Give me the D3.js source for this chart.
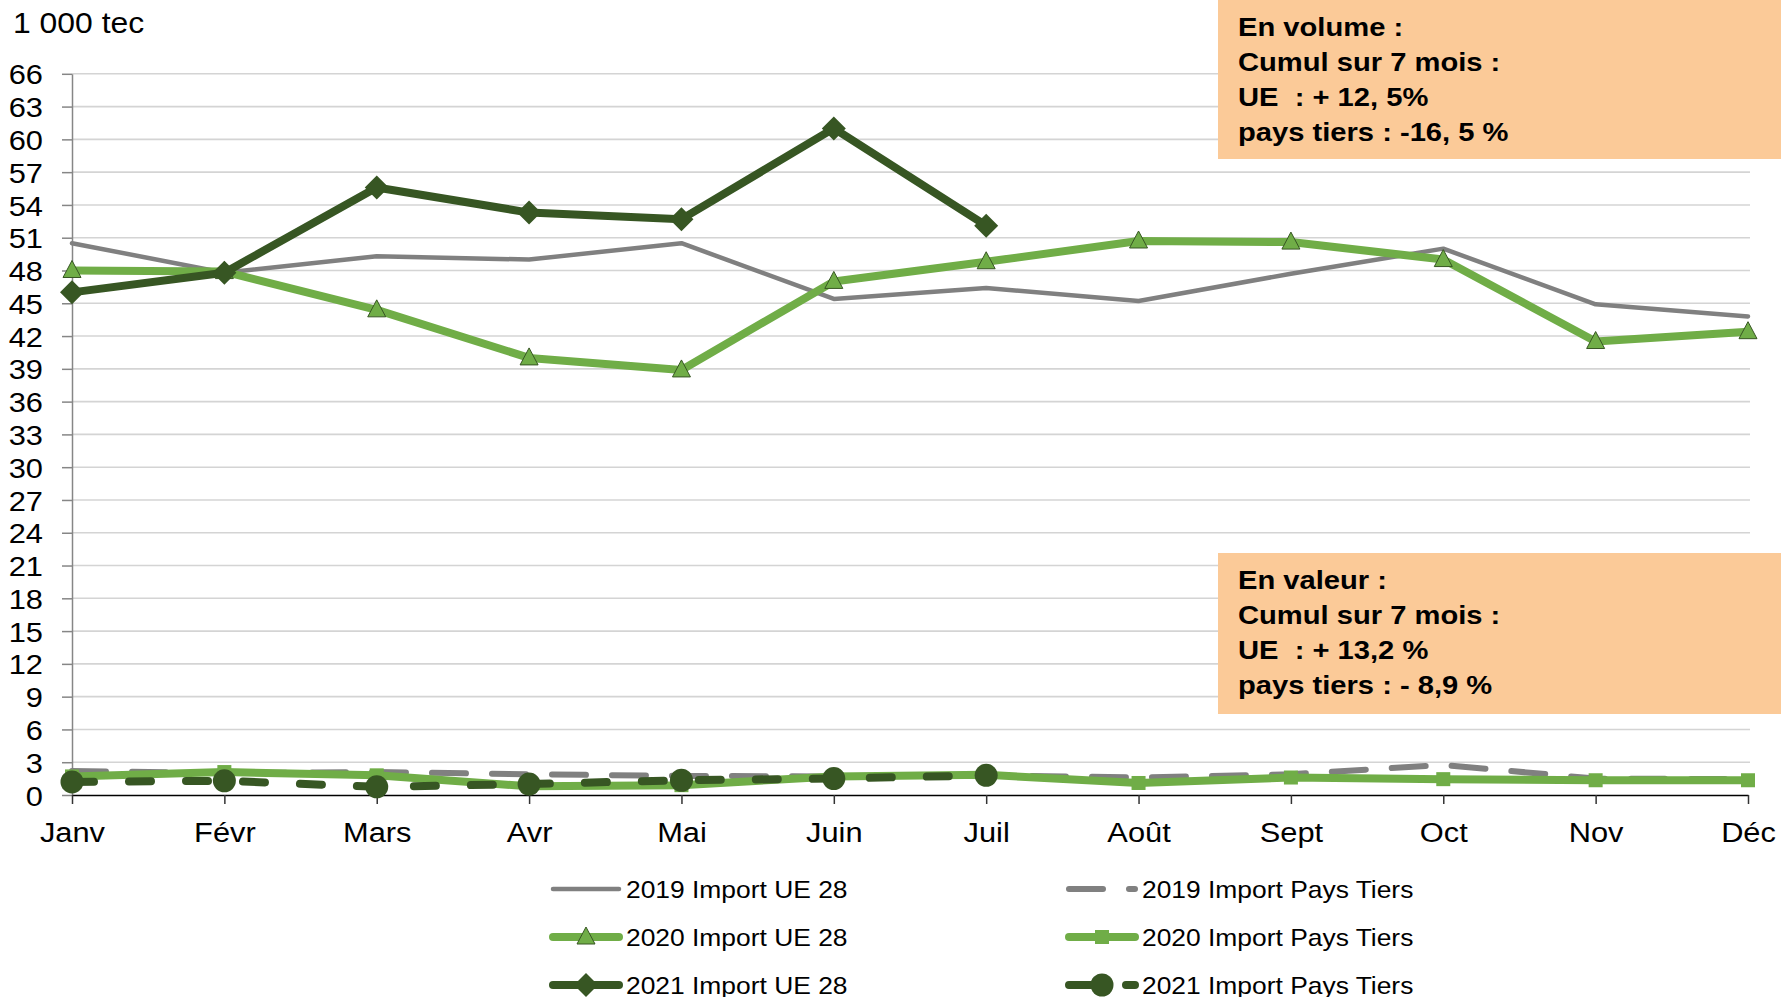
<!DOCTYPE html>
<html>
<head>
<meta charset="utf-8">
<script src="https://cdn.jsdelivr.net/npm/d3@7"></script>
<style>
  html, body { margin: 0; padding: 0; background: #fff; }
  svg { display: block; font-family: "Liberation Sans", Arial, sans-serif; }
  text { white-space: pre; }
</style>
</head>
<body>
<div id="chart"></div>
<script>
// monthly imports, 1 000 tec
const months = ["Janv", "Févr", "Mars", "Avr", "Mai", "Juin", "Juil", "Août", "Sept", "Oct", "Nov", "Déc"];
const ue2019 = [50.5, 47.8, 49.3, 49.0, 50.5, 45.4, 46.4, 45.2, 47.7, 50.0, 44.9, 43.8];
const ue2020 = [48.0, 47.9, 44.4, 40.0, 38.9, 47.0, 48.8, 50.7, 50.6, 49.0, 41.5, 42.4];
const ue2021 = [46.0, 47.8, 55.6, 53.3, 52.7, 61.0, 52.1];
const pt2019 = [2.2, 2.0, 2.1, 1.9, 1.75, 1.7, 1.8, 1.6, 1.9, 2.75, 1.5, 1.45];
const pt2020 = [1.7, 2.1, 1.8, 0.8, 0.9, 1.7, 1.85, 1.1, 1.6, 1.45, 1.35, 1.35];
const pt2021 = [1.2, 1.3, 0.75, 1.0, 1.35, 1.5, 1.8];
const yTicks = d3.range(0, 67, 3);

const boxVolume = ["En volume :", "Cumul sur 7 mois :", "UE  : + 12, 5%", "pays tiers : -16, 5 %"];
const boxValeur = ["En valeur :", "Cumul sur 7 mois :", "UE  : + 13,2 %", "pays tiers : - 8,9 %"];

const GREY = "#808080", GREEN = "#70AD47", DARK = "#375623";
const SX = 1.1; // the original picture is a little stretched horizontally

const series = [
  { name: "2019 Import UE 28", values: ue2019, color: GREY, width: 4.5, dash: null, marker: null },
  { name: "2019 Import Pays Tiers", values: pt2019, color: GREY, width: 6, dash: "34,26", marker: null },
  { name: "2020 Import UE 28", values: ue2020, color: GREEN, width: 8, dash: null, marker: "triangle" },
  { name: "2020 Import Pays Tiers", values: pt2020, color: GREEN, width: 8, dash: null, marker: "square" },
  { name: "2021 Import UE 28", values: ue2021, color: DARK, width: 8, dash: null, marker: "diamond" },
  { name: "2021 Import Pays Tiers", values: pt2021, color: DARK, width: 8, dash: "22,35", marker: "circle" },
];

const W = 1781, H = 997;
const svg = d3.select("#chart").append("svg").attr("width", W).attr("height", H);

const x = d3.scalePoint().domain(months).range([72, 1748]);
const y = d3.scaleLinear().domain([0, 66]).range([795, 73.8]);

function label(parent, px, py, str, size, weight, anchor) {
  return parent.append("text")
    .attr("transform", `translate(${px},${py}) scale(${SX},1)`)
    .attr("font-size", size)
    .attr("font-weight", weight || 400)
    .attr("text-anchor", anchor || "start")
    .attr("fill", "#000")
    .text(str);
}

// gridlines
svg.append("g").selectAll("line").data(yTicks.filter(d => d > 0)).join("line")
  .attr("x1", x.range()[0]).attr("x2", 1750)
  .attr("y1", d => y(d)).attr("y2", d => y(d))
  .attr("stroke", "#d4d4d4").attr("stroke-width", 1.6);

// y axis
const yAxis = svg.append("g").attr("transform", `translate(${x.range()[0]},0)`)
  .call(d3.axisLeft(y).tickValues(yTicks).tickSize(10).tickPadding(16.4).tickSizeOuter(0));
yAxis.select(".domain").attr("stroke", "#868686").attr("stroke-width", 1.5);
yAxis.selectAll(".tick line").attr("stroke", "#868686").attr("stroke-width", 1.5);
yAxis.selectAll(".tick text")
  .attr("font-size", 28).attr("font-family", null).attr("fill", "#000")
  .attr("dy", "0.36em")
  .attr("transform", `scale(${SX},1)`);

// x axis
const xAxis = svg.append("g").attr("transform", `translate(0,${y(0)})`)
  .call(d3.axisBottom(x).tickSize(9).tickSizeOuter(0));
xAxis.select(".domain").attr("stroke", "#000").attr("stroke-width", 1.5);
xAxis.selectAll(".tick line").attr("stroke", "#333").attr("stroke-width", 1.5);
xAxis.selectAll(".tick text")
  .attr("font-size", 28).attr("font-family", null).attr("fill", "#000")
  .attr("y", 47).attr("dy", null)
  .attr("transform", `scale(${SX},1)`);

label(svg, 13, 33, "1 000 tec", 29);

// markers
function drawMarker(g, kind, cx, cy, color) {
  if (kind === "triangle") {
    g.append("path").attr("d", `M${cx},${cy - 10}L${cx + 9},${cy + 7}L${cx - 9},${cy + 7}Z`)
      .attr("fill", GREEN).attr("stroke", DARK).attr("stroke-width", 1);
  } else if (kind === "diamond") {
    g.append("path").attr("d", `M${cx},${cy - 12}L${cx + 12},${cy}L${cx},${cy + 12}L${cx - 12},${cy}Z`)
      .attr("fill", DARK);
  } else if (kind === "square") {
    g.append("rect").attr("x", cx - 7).attr("y", cy - 7).attr("width", 14).attr("height", 14)
      .attr("fill", color);
  } else if (kind === "circle") {
    g.append("circle").attr("cx", cx).attr("cy", cy).attr("r", 11.5).attr("fill", color);
  }
}

const line = d3.line().x((d, i) => x(months[i])).y(d => y(d));

for (const s of series) {
  const g = svg.append("g");
  g.append("path").datum(s.values)
    .attr("d", line)
    .attr("fill", "none")
    .attr("stroke", s.color)
    .attr("stroke-width", s.width)
    .attr("stroke-dasharray", s.dash)
    .attr("stroke-linecap", "round")
    .attr("stroke-linejoin", "round");
  if (s.marker) {
    s.values.forEach((v, i) => drawMarker(g, s.marker, x(months[i]), y(v), s.color));
  }
}

// annotation boxes
function box(top, h, lines) {
  const g = svg.append("g");
  g.append("rect").attr("x", 1218).attr("y", top).attr("width", W - 1218).attr("height", h)
    .attr("fill", "#FBCA98");
  lines.forEach((t, i) => label(g, 1238, top + 36 + i * 35, t, 26.5, 700));
}
box(0, 159, boxVolume);
box(553, 161, boxValeur);

// legend
const legendCols = [549, 1065];
const legendRows = [889, 937, 985];
const legendOrder = [
  [0, 0, 0], [1, 1, 0],
  [2, 0, 1], [3, 1, 1],
  [4, 0, 2], [5, 1, 2],
];
const legend = svg.append("g");
for (const [si, c, r] of legendOrder) {
  const s = series[si];
  const lx = legendCols[c], ly = legendRows[r];
  legend.append("line")
    .attr("x1", lx + 4).attr("x2", lx + 70).attr("y1", ly).attr("y2", ly)
    .attr("stroke", s.color).attr("stroke-width", s.width)
    .attr("stroke-dasharray", s.dash)
    .attr("stroke-linecap", "round");
  if (s.marker) drawMarker(legend, s.marker, lx + 37, ly, s.color);
  label(legend, lx + 77, ly + 8.5, s.name, 24);
}
</script>
</body>
</html>
